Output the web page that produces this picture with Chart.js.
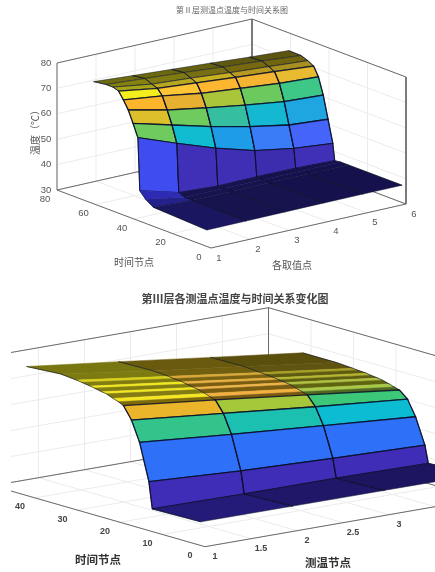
<!DOCTYPE html>
<html>
<head>
<meta charset="utf-8">
<title>温度与时间关系图</title>
<script src="https://cdn.jsdelivr.net/npm/chart.js@4/dist/chart.umd.js"></script>
<style>
  html, body { margin: 0; padding: 0; background: #fff; }
  .panel { position: absolute; }
  #layer2Panel { left: 0; top: 0; width: 435px; height: 286px; }
  #layer3Panel { left: 11px; top: 286px; width: 424px; height: 286px; }
  canvas { filter: blur(0.55px); }
</style>
</head>
<body>
<div class="panel" id="layer2Panel"><canvas id="layer2Chart"></canvas></div>
<div class="panel" id="layer3Panel"><canvas id="layer3Chart"></canvas></div>
<script>
// layer II surface
const layer2Nodes = [1, 2, 3, 4, 5, 6];
const layer2Times = [2, 30, 34, 37, 38, 40.5, 43, 45.5, 48, 51, 54.5, 61];
const layer2Temps = [
    [36.5, 36.6, 36.7, 36.8, 36.8, 36.8],
    [37.5, 36.8, 36.8, 36.8, 36.8, 36.8],
    [39.5, 36.8, 36.8, 36.8, 36.8, 36.8],
    [42.0, 37.8, 36.9, 37.1, 37.0, 36.5],
    [62.6, 56.9, 51.5, 47.1, 44.5, 43.0],
    [67.5, 63.4, 59.3, 55.8, 53.0, 51.8],
    [72.1, 68.6, 66.0, 63.6, 61.5, 60.6],
    [75.3, 73.4, 71.0, 69.5, 68.0, 67.1],
    [78.1, 75.7, 74.4, 73.1, 71.9, 70.6],
    [78.8, 76.5, 75.4, 74.1, 73.0, 71.9],
    [78.8, 77.7, 76.6, 75.3, 74.2, 72.9],
    [78.1, 77.0, 76.0, 75.0, 73.9, 73.0]
];
const layer2NodeTicks = [1, 2, 3, 4, 5, 6];
const layer2TimeTicks = [0, 20, 40, 60, 80];
const layer2TempTicks = [30, 40, 50, 60, 70, 80];

// layer III surface
const layer3Nodes = [1, 2, 3, 4];
const layer3Times = [1, 12.4, 13.2, 15.4, 17.3, 19.2, 20.4, 21.6, 23.2, 24.3, 26, 27, 29, 30.2, 34, 42];
const layer3Temps = [
    [39.1, 39.0, 38.9, 38.8],
    [38.7, 38.3, 38.2, 37.8],
    [48.8, 46.8, 45.5, 44.4],
    [62.9, 59.8, 57.0, 54.3],
    [70.6, 67.0, 63.4, 60.2],
    [75.3, 71.3, 67.1, 62.8],
    [76.2, 71.9, 67.7, 63.4],
    [76.9, 72.6, 68.3, 64.0],
    [77.9, 73.4, 69.1, 64.7],
    [78.2, 73.7, 69.4, 65.0],
    [78.8, 74.2, 69.7, 65.3],
    [79.1, 74.6, 70.0, 65.6],
    [79.6, 74.9, 70.3, 65.8],
    [79.9, 75.2, 70.5, 66.0],
    [80.5, 75.6, 71.0, 66.4],
    [79.6, 75.3, 70.8, 66.4]
];
const layer3NodeTicks = [1, 1.5, 2, 2.5, 3, 3.5, 4];
const layer3NodeLabels = ['1', '1.5', '2', '2.5', '3'];
const layer3TimeTicks = [0, 10, 20, 30, 40, 50];
const layer3TempTicks = [30, 40, 50, 60, 70, 80];

// face colours, one row per time step, front to back
const layer2Colors = [
    ['#1b1660', '#17134f', '#17134f', '#15114d', '#15114d'],
    ['#24208c', '#17134f', '#17134f', '#15114d', '#15114d'],
    ['#2d2bb4', '#17134f', '#17134f', '#15114d', '#15114d'],
    ['#3f4cf0', '#4030b8', '#3e2fb5', '#3c2cae', '#4030b8'],
    ['#6fcb5e', '#12bcd0', '#1e9ce8', '#3a7cf8', '#4565fa'],
    ['#dcbf2a', '#6fcb5e', '#35bfa0', '#14b8d0', '#1fa5e0'],
    ['#fdb52c', '#e8b030', '#aac53a', '#6bc95d', '#3dc888'],
    ['#f4ee1e', '#fdc435', '#fdb630', '#f5b432', '#e8bb30'],
    ['#a8a41a', '#b8a820', '#c8b020', '#b89a20', '#a89020'],
    ['#86820f', '#7f7a12', '#786f12', '#76690f', '#72650f'],
    ['#6d6a10', '#6b6810', '#655f10', '#5f5810', '#5c5510']
];
const layer3Colors = [
    ['#241a78', '#201768', '#1e1560'],
    ['#3f2db8', '#3f2db8', '#3f2db8'],
    ['#2f70f8', '#2f70f8', '#2f70f8'],
    ['#33c48c', '#1cc0b0', '#0cbcd2'],
    ['#eab52a', '#a4c83a', '#3cc878'],
    ['#7f6a0a', '#7a5a10', '#4f6a20'],
    ['#f5e622', '#f2b040', '#a8c848'],
    ['#847c12', '#7a5c10', '#5e6410'],
    ['#f2e820', '#eeb448', '#b0c040'],
    ['#847e10', '#7a5c10', '#5e6010'],
    ['#f0e820', '#e8b040', '#b8b830'],
    ['#827c10', '#7a6210', '#5e5a10'],
    ['#d8d018', '#d8a838', '#a8a020'],
    ['#7c7a10', '#705f0e', '#5f5510'],
    ['#787610', '#6a5a0e', '#5a4f0c']
];
// edge width of each row of faces, 0 means no dark edge
const layer2EdgeWidths = [0.5, 0, 0, 1, 1.3, 1.3, 1.3, 1.3, 0.8, 0.6, 0.5];
const layer3EdgeWidths = [0.6, 1.3, 1.3, 1.3, 1.3, 0, 0, 0, 0, 0, 0, 0, 0, 0, 0];

const gridColor = '#ebebeb';
const boxColor = '#6a6a6a';
const meshColor = 'rgba(8,14,40,0.85)';

function lineSet(pts, color, width) {
    return {
        data: pts,
        showLine: true,
        borderColor: color,
        borderWidth: width,
        pointRadius: 0,
        fill: false
    };
}

// walls, floor grid and box first, then the mesh from the far row to the near row
function buildDatasets(opt) {
    const sets = [];
    const nMin = opt.nodes[0], nMax = opt.nodeMax;
    const tMax = opt.timeTicks[opt.timeTicks.length - 1];
    const zMin = opt.tempTicks[0], zMax = opt.tempTicks[opt.tempTicks.length - 1];
    const p = opt.project;

    opt.nodeTicks.forEach(function (n) {
        sets.push(lineSet([p(n, 0, zMin), p(n, tMax, zMin), p(n, tMax, zMax)], gridColor, 1));
    });
    opt.timeTicks.forEach(function (t) {
        sets.push(lineSet([p(nMin, t, zMin), p(nMax, t, zMin), p(nMax, t, zMax)], gridColor, 1));
    });
    opt.tempTicks.forEach(function (z) {
        sets.push(lineSet([p(nMin, tMax, z), p(nMax, tMax, z), p(nMax, 0, z)], gridColor, 1));
    });

    [
        [[nMin, tMax, zMin], [nMin, tMax, zMax], [nMax, tMax, zMax], [nMax, 0, zMax], [nMax, 0, zMin]],
        [[nMax, tMax, zMax], [nMax, tMax, zMin]],
        [[nMin, tMax, zMin], [nMax, tMax, zMin], [nMax, 0, zMin]],
        [[nMin, tMax, zMin], [nMin, 0, zMin], [nMax, 0, zMin]]
    ].forEach(function (path) {
        sets.push(lineSet(path.map(function (v) { return p(v[0], v[1], v[2]); }), boxColor, 1));
    });

    for (let r = opt.times.length - 2; r >= 0; r--) {
        for (let c = 0; c < opt.nodes.length - 1; c++) {
            const edge = opt.edges[r];
            sets.push({
                data: [
                    p(opt.nodes[c], opt.times[r], opt.temps[r][c]),
                    p(opt.nodes[c + 1], opt.times[r], opt.temps[r][c + 1]),
                    p(opt.nodes[c + 1], opt.times[r + 1], opt.temps[r + 1][c + 1]),
                    p(opt.nodes[c], opt.times[r + 1], opt.temps[r + 1][c]),
                    p(opt.nodes[c], opt.times[r], opt.temps[r][c])
                ],
                showLine: true,
                fill: 'shape',
                backgroundColor: opt.colors[r][c],
                borderColor: edge ? meshColor : opt.colors[r][c],
                borderWidth: edge || 0.5,
                pointRadius: 0
            });
        }
    }
    // column edges run over the whole surface
    opt.nodes.forEach(function (n, c) {
        const pts = opt.times.map(function (t, r) { return p(n, t, opt.temps[r][c]); });
        sets.push(lineSet(pts, 'rgba(8,14,40,0.7)', 0.9));
    });
    // chart.js paints the first dataset on top
    sets.forEach(function (s, i) { s.order = sets.length - i; });
    return sets;
}

function makeChart(id, opt) {
    const labelPlugin = {
        id: 'panelText',
        afterDraw: function (chart) {
            const c = chart.ctx;
            const xs = chart.scales.x, ys = chart.scales.y;
            c.save();
            c.textAlign = 'center';
            c.textBaseline = 'middle';
            opt.texts.forEach(function (t) {
                c.save();
                c.font = t.font;
                c.fillStyle = t.color;
                c.translate(xs.getPixelForValue(t.x), ys.getPixelForValue(t.y));
                if (t.rot) c.rotate(t.rot);
                c.fillText(t.text, 0, 0);
                c.restore();
            });
            c.restore();
        }
    };
    return new Chart(document.getElementById(id), {
        type: 'scatter',
        data: { datasets: buildDatasets(opt) },
        plugins: [labelPlugin],
        options: {
            responsive: true,
            maintainAspectRatio: false,
            animation: false,
            layout: { padding: 0 },
            elements: { line: { tension: 0 } },
            plugins: { legend: { display: false }, tooltip: { enabled: false } },
            scales: {
                x: { type: 'linear', display: false, min: opt.xMin, max: 435 },
                y: { type: 'linear', display: false, min: 0, max: 286, reverse: true }
            }
        }
    });
}

const numFont2 = '9.5px "Liberation Sans", sans-serif';
const numColor2 = '#555';
const cjk = '"Noto Sans CJK SC", sans-serif';

function project2(n, t, z) {
    return {
        x: 211 + 39 * (n - 1) - 1.925 * t,
        y: 248 - 8.8 * (n - 1) - 0.725 * t - 2.54 * (z - 30)
    };
}
function project3(n, t, z) {
    return {
        x: 205 + 92 * (n - 1) - 4.25 * t,
        y: 260.7 - 16 * (n - 1) - 1.22 * t - 2.6 * (z - 30)
    };
}

const texts2 = [
    { text: '第Ⅱ层测温点温度与时间关系图', x: 232, y: 10, font: '8px ' + cjk, color: '#666' },
    { text: '温度（℃）', x: 35, y: 130, font: '10px ' + cjk, color: '#555', rot: -Math.PI / 2 },
    { text: '时间节点', x: 134, y: 262, font: '10px ' + cjk, color: '#555' },
    { text: '各取值点', x: 292, y: 265, font: '10px ' + cjk, color: '#555' }
];
layer2TempTicks.forEach(function (z) {
    const q = project2(1, 80, z);
    texts2.push({ text: String(z), x: q.x - 11, y: q.y, font: numFont2, color: numColor2 });
});
layer2TimeTicks.forEach(function (t) {
    const q = project2(1, t, 30);
    texts2.push({ text: String(t), x: q.x - 12, y: q.y + 9, font: numFont2, color: numColor2 });
});
layer2NodeTicks.forEach(function (n) {
    const q = project2(n, 0, 30);
    texts2.push({ text: String(n), x: q.x + 8, y: q.y + 10, font: numFont2, color: numColor2 });
});

const texts3 = [
    { text: '第Ⅲ层各测温点温度与时间关系变化图', x: 235, y: 13, font: '600 11px ' + cjk, color: '#444' },
    { text: '时间节点', x: 98, y: 274, font: 'bold 11.5px ' + cjk, color: '#333' },
    { text: '测温节点', x: 328, y: 277, font: 'bold 11.5px ' + cjk, color: '#333' }
];
const numFont3 = 'bold 9px "Liberation Sans", sans-serif';
layer3TimeTicks.forEach(function (t) {
    if (t === 50) return;
    const q = project3(1, t, 30);
    texts3.push({ text: String(t), x: q.x - 15, y: q.y + 9, font: numFont3, color: '#444' });
});
layer3NodeLabels.forEach(function (s) {
    const q = project3(parseFloat(s), 0, 30);
    texts3.push({ text: s, x: q.x + 10, y: q.y + 10, font: numFont3, color: '#444' });
});

makeChart('layer2Chart', {
    nodes: layer2Nodes, times: layer2Times, temps: layer2Temps, colors: layer2Colors, edges: layer2EdgeWidths,
    nodeMax: 6, nodeTicks: layer2NodeTicks, timeTicks: layer2TimeTicks, tempTicks: layer2TempTicks,
    project: project2, texts: texts2, xMin: 0
});
makeChart('layer3Chart', {
    nodes: layer3Nodes, times: layer3Times, temps: layer3Temps, colors: layer3Colors, edges: layer3EdgeWidths,
    nodeMax: 4, nodeTicks: layer3NodeTicks, timeTicks: layer3TimeTicks, tempTicks: layer3TempTicks,
    project: project3, texts: texts3, xMin: 11
});
</script>
</body>
</html>
